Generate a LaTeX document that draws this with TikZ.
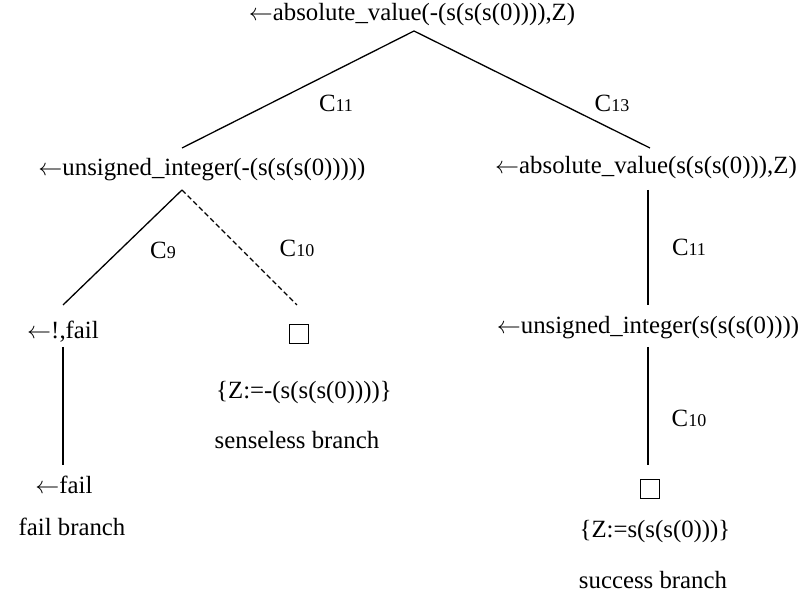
\documentclass[tikz,border=0pt]{standalone}
\usepackage{fontspec}
\setmainfont{Liberation Serif}
\newcommand{\clab}[1]{C{\fontsize{9}{10}\selectfont #1}}
\newcommand{\goal}{$\leftarrow$}

\begin{document}
\begin{tikzpicture}[x=0.5pt, y=-0.5pt,
    every node/.style={font=\fontsize{12.4}{14}\selectfont, inner sep=1pt},
    goalnode/.style={inner sep=2pt},
    emptybox/.style={draw, line width=0.8pt, minimum size=9.5pt, inner sep=0pt},
    edge/.style={line width=0.65pt}]
                    \useasboundingbox (0,0) rectangle (800,598);
                    % Nodes
                    \node[goalnode] (root) at (412,15) {\goal absolute\_value(-(s(s(s(0)))),Z)};
                    \coordinate (top) at (414,31);
                    \node[goalnode] (ui1) at (202,170) {\goal unsigned\_integer(-(s(s(s(0)))))};
                    \coordinate (ui1t) at (182,148);
                    \coordinate (ui1b) at (182,190);
                    \node[goalnode] (av2) at (646,168) {\goal absolute\_value(s(s(s(0))),Z)};
                    \coordinate (av2t) at (650,148);
                    \coordinate (av2b) at (648,190);
                    \coordinate (av2c) at (648,305);
                    \node[goalnode] (cf) at (63,332) {\goal!,fail};
                    \coordinate (cft) at (63,305);
                    \coordinate (cfb) at (63,347);
                    \coordinate (cfc) at (63,465);
                    \node (box1) at (299,334) [emptybox] {};
                    \coordinate (box1t) at (297,305);
                    \node (sub1) at (304,393) {\{Z:=-(s(s(s(0))))\}};
                    \node (sense) at (297,440) {senseless branch};
                    \node[goalnode] (fl) at (64,485) {\goal fail};
                    \node (flb) at (72,527) {fail branch};
                    \node[goalnode] (ui2) at (648,328) {\goal unsigned\_integer(s(s(s(0))))};
                    \coordinate (ui2b) at (648,347);
                    \coordinate (ui2c) at (648,465);
                    \node (box2) at (650,489) [emptybox] {};
                    \node (sub2) at (655,532) {\{Z:=s(s(s(0)))\}};
                    \node (succ) at (653,580) {success branch};
                    % Labels
                    \node (l11) at (336,103) {\clab{11}};
                    \node (l13) at (612,103) {\clab{13}};
                    \node (l9) at (163,250) {\clab{9}};
                    \node (l10) at (297,248) {\clab{10}};
                    \node (l11b) at (689,247) {\clab{11}};
                    \node (l10b) at (689,418) {\clab{10}};
                    % Edges
                    \draw[edge] (top) -- (ui1t);
                    \draw[edge] (top) -- (av2t);
                    \draw[edge] (ui1b) -- (cft);
                    \draw[edge, dash pattern=on 2.5pt off 1.5pt] (ui1b) -- (box1t);
                    \draw[edge] (av2b) -- (av2c);
                    \draw[edge] (cfb) -- (cfc);
                    \draw[edge] (ui2b) -- (ui2c);
                \end{tikzpicture}
\end{document}
